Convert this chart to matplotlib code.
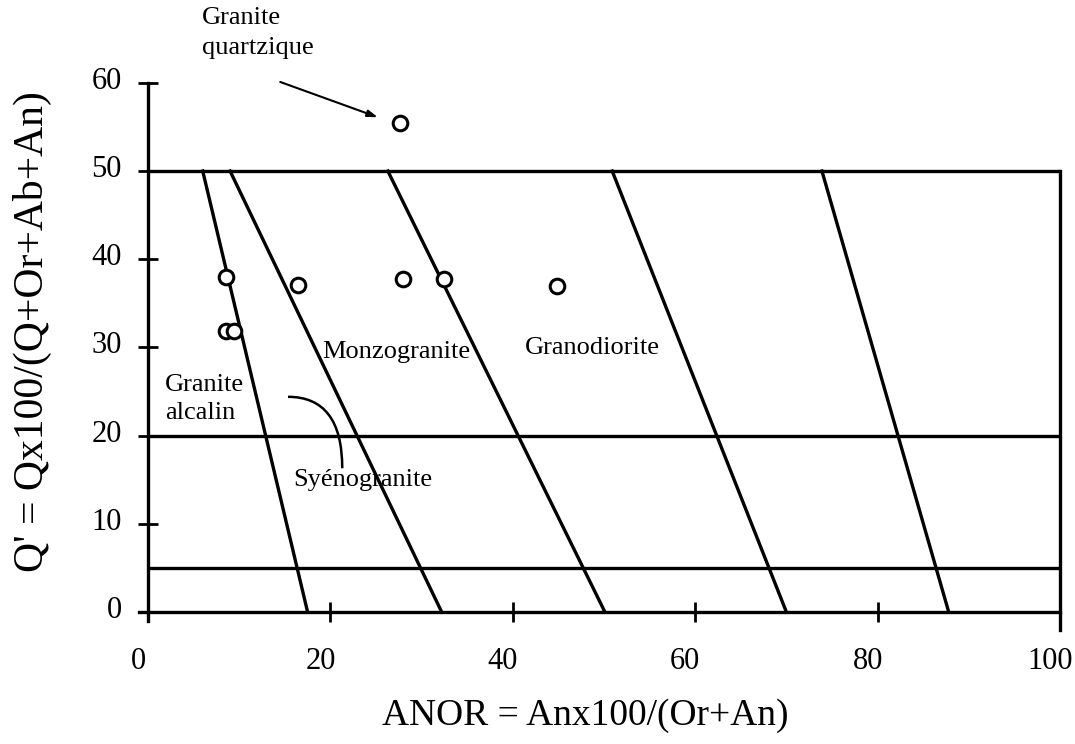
import numpy as np
import matplotlib
matplotlib.use("Agg")
import matplotlib.pyplot as plt
from matplotlib.path import Path
from matplotlib.patches import PathPatch
from matplotlib.transforms import ScaledTranslation

plt.rcParams['font.family'] = ['Liberation Serif', 'DejaVu Serif']

# sample points (ANOR, Q')
anor = [8.6, 16.4, 28.0, 32.5, 44.8, 8.6, 9.4, 27.6]
qprime = [38.0, 37.1, 37.8, 37.8, 37.0, 31.9, 31.9, 55.4]

# field boundaries: ANOR at Q'=50 (top) and Q'=0 (bottom)
bound_top = [6.0, 9.0, 26.3, 50.9, 73.9]
bound_bot = [17.5, 32.2, 50.1, 70.0, 87.8]
q_levels = [50, 20, 5]

# field names (text, x, y)
field_names = [("Monzogranite", 19.1, 29.5),
               ("Granodiorite", 41.3, 29.9),
               ("Granite\nalcalin", 1.9, 24.1),
               ("Syénogranite", 15.9, 15.0)]

fig = plt.figure(figsize=(10.75, 7.44), dpi=100)
ax = fig.add_axes([0.1292, 0.1478, 0.8653, 0.7527])
ax.set_xlim(-1, 101)
ax.set_ylim(-2.5, 61)

lw = 2.4
# horizontal levels
for q in q_levels:
    ax.plot([0, 100], [q, q], color='k', lw=lw, solid_capstyle='butt')
# slanted boundaries
for xt, xb in zip(bound_top, bound_bot):
    ax.plot([xt, xb], [50, 0], color='k', lw=lw)
# right edge
ax.plot([100, 100], [-2, 50], color='k', lw=lw)

ax.plot(anor, qprime, 'o', ms=10.5, mfc='white', mec='k', mew=2.2, zorder=5)

for txt, x, y in field_names:
    ax.text(x, y, txt, fontsize=19, ha='left', va='center', linespacing=1.35)

# leader curve for Syénogranite
verts = [(15.35, 24.4), (21.3, 24.4), (21.3, 16.3)]
ax.add_patch(PathPatch(Path(verts, [Path.MOVETO, Path.CURVE3, Path.CURVE3]),
                       fc='none', ec='k', lw=1.8))

# Granite quartzique label with arrow
ax.text(5.9, 68.6, "Granite\nquartzique", fontsize=19, ha='left', va='top',
        linespacing=1.45, clip_on=False)
ax.annotate("", xy=(25.2, 56.1), xytext=(14.5, 60.1), annotation_clip=False,
            arrowprops=dict(arrowstyle='-|>,head_length=0.6,head_width=0.2',
                            color='k', lw=1.5, shrinkA=0, shrinkB=0))

for s in ['top', 'right']:
    ax.spines[s].set_visible(False)
ax.spines['left'].set_position(('data', 0))
ax.spines['bottom'].set_position(('data', 0))
ax.spines['left'].set_bounds(-1, 60)
ax.spines['bottom'].set_bounds(-1, 100)
ax.spines['left'].set_linewidth(lw)
ax.spines['bottom'].set_linewidth(lw)

ax.set_xticks(np.arange(0, 101, 20))
ax.set_yticks(np.arange(0, 61, 10))
ax.tick_params(axis='both', direction='inout', length=14, width=2, labelsize=22)
ax.tick_params(axis='x', pad=18)
ax.tick_params(axis='y', pad=12)

# tick labels sit a little off their ticks in the original
for t in ax.xaxis.get_major_ticks():
    t.label1.set_transform(t.label1.get_transform()
                           + ScaledTranslation(-0.10, 0, fig.dpi_scale_trans))
for t in ax.yaxis.get_major_ticks():
    t.label1.set_transform(t.label1.get_transform()
                           + ScaledTranslation(0, 0.05, fig.dpi_scale_trans))

ax.set_xlabel("ANOR = Anx100/(Or+An)", fontsize=27)
ax.set_ylabel("Q' = Qx100/(Q+Or+Ab+An)", fontsize=30)
ax.xaxis.set_label_coords(0.48, -0.115)
ax.yaxis.set_label_coords(-0.093, 0.54)

plt.savefig('out.png', dpi=100)
